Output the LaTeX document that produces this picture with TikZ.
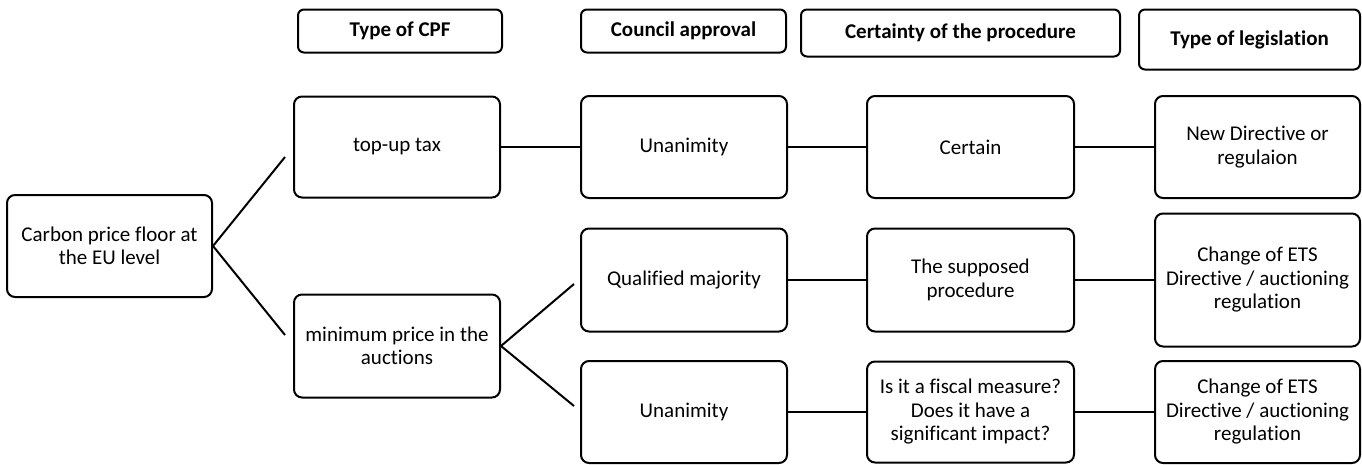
\documentclass[tikz,border=0pt]{standalone}
\usepackage{fontspec}
\setmainfont{Carlito}[Ligatures=NoCommon]
\usetikzlibrary{calc}
\begin{document}
\begin{tikzpicture}[x=1pt,y=-1pt,
  box/.style={draw, line width=2pt, rounded corners=8pt, align=center, inner sep=0pt,
    font=\fontsize{21}{23.5}\selectfont},
  head/.style={box, rounded corners=6pt, font=\fontsize{21}{23.5}\selectfont\bfseries},
  link/.style={line width=2pt}]
\useasboundingbox (0,0) rectangle (1362,464);
% headers
\node[head, minimum width=204pt, minimum height=43pt] (h1) at (400,31) {Type of CPF};
\node[head, minimum width=205pt, minimum height=43pt] (h2) at (683.5,31) {Council approval};
\node[head, minimum width=319pt, minimum height=47pt] (h3) at (960.5,33) {Certainty of the procedure};
\node[head, minimum width=221pt, minimum height=60pt] (h4) at (1249.5,39.5) {Type of legislation};
% boxes
\node[box, minimum width=205pt, minimum height=102pt] (cpf) at (109.5,246) {Carbon price floor at\\the EU level};
\node[box, minimum width=206pt, minimum height=101pt] (tax) at (397,147) {top-up tax};
\node[box, minimum width=206pt, minimum height=103pt] (mp) at (397,346) {minimum price in the\\auctions};
\node[box, minimum width=206pt, minimum height=102pt] (u1) at (684,147) {Unanimity};
\node[box, minimum width=206pt, minimum height=103pt] (qm) at (684,280) {Qualified majority};
\node[box, minimum width=206pt, minimum height=102pt] (u2) at (684,412) {Unanimity};
\node[box, minimum width=207pt, minimum height=102pt] (cert) at (970.5,147) {Certain};
\node[box, minimum width=207pt, minimum height=103pt] (sp) at (970.5,280) {The supposed\\procedure};
\node[box, minimum width=207pt, minimum height=101pt] (fis) at (970.5,412) {Is it a fiscal measure?\\Does it have a\\significant impact?};
\node[box, minimum width=205pt, minimum height=102pt] (nd) at (1257.5,147) {New Directive or\\regulaion};
\node[box, minimum width=205pt, minimum height=133pt] (ets1) at (1257.5,280) {Change of ETS\\Directive / auctioning\\regulation};
\node[box, minimum width=205pt, minimum height=102pt] (ets2) at (1257.5,412) {Change of ETS\\Directive / auctioning\\regulation};
% connectors
\draw[link] (cpf.east) -- ([xshift=-8pt,yshift=-10pt]tax.west);
\draw[link] (cpf.east) -- ([xshift=-8pt,yshift=11pt]mp.west);
\draw[link] (mp.east) -- ([xshift=-6pt,yshift=-4pt]qm.west);
\draw[link] (mp.east) -- ([xshift=-6pt,yshift=6pt]u2.west);
\draw[link] (tax.east) -- (u1.west);
\draw[link] (u1.east) -- (cert.west);
\draw[link] (cert.east) -- (nd.west);
\draw[link] (qm.east) -- (sp.west);
\draw[link] (sp.east) -- (ets1.west);
\draw[link] (u2.east) -- (fis.west);
\draw[link] (fis.east) -- (ets2.west);
\end{tikzpicture}
\end{document}
